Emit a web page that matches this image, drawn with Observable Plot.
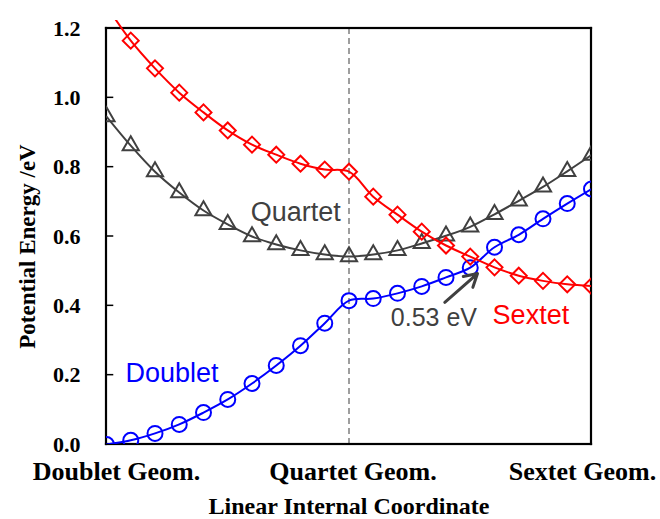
<!DOCTYPE html>
<html>
<head>
<meta charset="utf-8">
<script src="https://cdn.jsdelivr.net/npm/d3@7"></script>
<script src="https://cdn.jsdelivr.net/npm/@observablehq/plot@0.6"></script>
<style>
  body { margin: 0; background: #fff; }
</style>
</head>
<body>
<div id="chart"></div>
<script>
// Step index along the linear interpolation between the three optimised geometries
const steps = d3.range(0, 21);

// Potential energies (eV) of each spin state along the path
const doublet = [0.000, 0.012, 0.032, 0.058, 0.092, 0.130, 0.176, 0.228, 0.285, 0.350, 0.415,
                 0.421, 0.436, 0.456, 0.482, 0.510, 0.569, 0.605, 0.651, 0.695, 0.737];
const quartet = [0.946, 0.862, 0.787, 0.727, 0.675, 0.635, 0.600, 0.577, 0.560, 0.548, 0.542,
                 0.548, 0.560, 0.580, 0.602, 0.628, 0.664, 0.703, 0.743, 0.788, 0.835];
const sextet  = [1.265, 1.165, 1.085, 1.015, 0.958, 0.906, 0.865, 0.836, 0.810, 0.793, 0.787,
                 0.715, 0.663, 0.614, 0.574, 0.542, 0.511, 0.487, 0.472, 0.462, 0.457];

// Axis ticks
const geomSteps = [0, 10, 20];
const geomLabels = ["Doublet Geom.", "Quartet Geom.", "Sextet Geom."];
const yTicks = [0, 0.2, 0.4, 0.6, 0.8, 1.0, 1.2];

// Series names and where their labels sit (step, energy)
const seriesNames = ["Doublet", "Quartet", "Sextet"];
const seriesLabelX = [2.7, 7.8, 17.5];
const seriesLabelY = [0.205, 0.67, 0.372];

// Crossing annotation: text, its anchor, and the arrow from tail to head
const crossingText = "0.53 eV";
const crossingTextAt = [13.5, 0.366];
const crossingArrow = [13.95, 0.41, 15.3, 0.493];

const colors = ["#0000ff", "#404040", "#ff0000"];
const symbols = ["circle", "triangle", "diamond2"];
const values = [doublet, quartet, sextet];

const xMax = 20, yMax = 1.2;
// span of the inward tick stubs on the left edge, in steps
const tickStub = 0.3;

const serif = "'Liberation Serif', 'Times New Roman', serif";
const sans = "'Liberation Sans', Arial, sans-serif";

const seriesMarks = [0, 1, 2].flatMap(k => [
  Plot.line(steps, {
    x: d => d, y: d => values[k][d],
    stroke: colors[k], strokeWidth: 2, curve: "catmull-rom", clip: true
  }),
  Plot.dot(steps, {
    x: d => d, y: d => values[k][d],
    symbol: symbols[k], r: k === 1 ? 6 : (k === 2 ? 7.2 : 7.5),
    stroke: colors[k], strokeWidth: 2, fill: "none", clip: true
  })
]);

// geometry names under the axis, each nudged slightly as in the original layout
const geomNudge = [10, 4, -9];
const geomMarks = geomSteps.map((s, i) =>
  Plot.text([geomLabels[i]], {
    x: s, y: 0, text: d => d, dx: geomNudge[i], dy: 27, lineAnchor: "middle",
    fontFamily: serif, fontSize: 26, fontWeight: "bold", fill: "black", textAnchor: "middle"
  })
);

// thin filled bars for the plot box edges and tick stubs
const hBar = (ys, x2, half) => Plot.rect(ys, {
  x1: 0, x2, y1: d => d, y2: d => d,
  insetTop: -half, insetBottom: -half, insetLeft: -half, insetRight: -half, fill: "black"
});
const vBar = (xs, half) => Plot.rect(xs, {
  x1: d => d, x2: d => d, y1: 0, y2: yMax,
  insetLeft: -half, insetRight: -half, insetTop: -half, insetBottom: -half, fill: "black"
});

const chart = Plot.plot({
  width: 660,
  height: 519,
  marginLeft: 106,
  marginRight: 69,
  marginTop: 20,
  marginBottom: 75,
  style: { background: "#fff", overflow: "visible" },
  x: { domain: [0, xMax], axis: null },
  y: { domain: [0, yMax + 8 / 346.7], axis: null },
  marks: [
    // dashed guide at the quartet geometry
    Plot.ruleX([10], { y1: 0, y2: yMax, stroke: "#7f7f7f", strokeWidth: 1.5, strokeDasharray: "6,4" }),

    // box around the plotting area
    hBar([0, yMax], xMax, 1.1),
    vBar([0, xMax], 1.1),
    // inward tick stubs
    Plot.rect(yTicks, {
      x1: 0, x2: tickStub, y1: d => d, y2: d => d,
      insetTop: -0.75, insetBottom: -0.75, fill: "black"
    }),

    // y axis labels
    Plot.text(yTicks, {
      x: 0, y: d => d, text: d => d3.format(".1f")(d), dx: -26, textAnchor: "end",
      fontFamily: serif, fontSize: 22, fontWeight: "bold", fill: "black"
    }),
    ...geomMarks,

    ...seriesMarks,

    // series labels
    Plot.text(seriesNames, {
      x: (d, i) => seriesLabelX[i], y: (d, i) => seriesLabelY[i], text: d => d,
      fill: (d, i) => colors[i], fontFamily: sans, fontSize: 27, textAnchor: "middle"
    }),

    // crossing-point annotation
    Plot.arrow([crossingArrow], {
      x1: d => d[0], y1: d => d[1], x2: d => d[2], y2: d => d[3],
      stroke: "#404040", strokeWidth: 3, headLength: 12
    }),
    Plot.text([crossingText], {
      x: crossingTextAt[0], y: crossingTextAt[1], text: d => d,
      fill: "#404040", fontFamily: sans, fontSize: 25, textAnchor: "middle"
    }),

    // axis titles
    Plot.text(["Linear Internal Coordinate"], {
      frameAnchor: "bottom", dy: 62, lineAnchor: "middle", textAnchor: "middle", text: d => d,
      fontFamily: serif, fontSize: 24, fontWeight: "bold", fill: "black"
    }),
    Plot.text(["Potential Energy /eV"], {
      frameAnchor: "left", dx: -79, dy: 14, rotate: -90, lineAnchor: "middle", textAnchor: "middle",
      text: d => d, fontFamily: serif, fontSize: 23, fontWeight: "bold", fill: "black"
    })
  ]
});

document.getElementById("chart").appendChild(chart);
</script>
</body>
</html>
